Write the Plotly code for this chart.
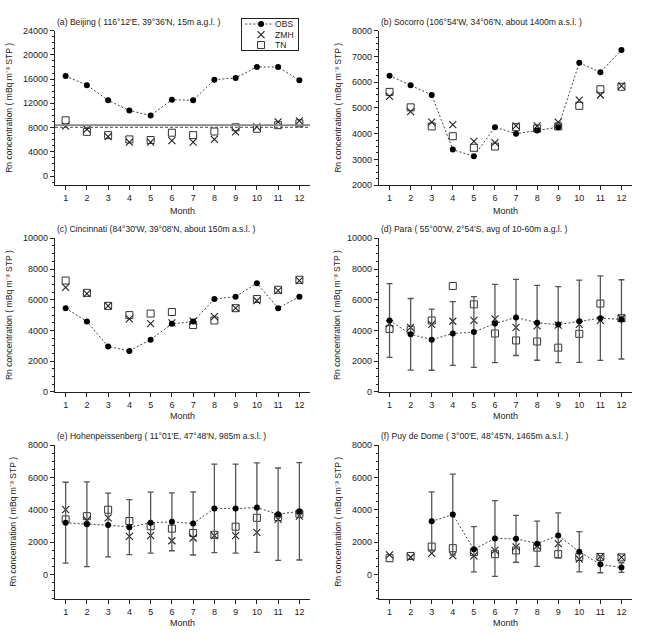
import plotly.graph_objects as go

months = list(range(1, 13))

# ---------------- data ----------------
beijing_obs = [16500, 15000, 12500, 10800, 10000, 12600, 12500, 15900, 16200, 18000, 18000, 15800]
beijing_zmh = [8250, 7700, 6500, 5600, 5600, 5850, 5600, 6050, 7300, 8100, 8950, 9100]
beijing_tn = [9200, 7300, 6750, 6050, 5950, 7150, 6750, 7350, 8050, 7800, 8400, 8700]
beijing_ref_solid = 8400
beijing_ref_dash = 8050

socorro_obs = [6250, 5880, 5500, 3380, 3120, 4250, 4000, 4120, 4250, 6750, 6380, 7250]
socorro_zmh = [5450, 4850, 4450, 4350, 3700, 3650, 4300, 4300, 4450, 5300, 5500, 5850]
socorro_tn = [5620, 5020, 4280, 3900, 3450, 3500, 4250, 4200, 4280, 5080, 5720, 5820]

cinc_obs = [5450, 4580, 2960, 2670, 3400, 4430, 4580, 6050, 6200, 7080, 5450, 6200]
cinc_zmh = [6800, 6400, 5600, 4750, 4450, 4500, 4600, 4900, 5450, 5950, 6600, 7250]
cinc_tn = [7250, 6450, 5600, 5000, 5100, 5200, 4350, 4650, 5450, 6050, 6650, 7300]

para_obs = [4650, 3750, 3400, 3800, 3900, 4450, 4850, 4500, 4380, 4600, 4800, 4720]
para_std = [2400, 2330, 1990, 2080, 2300, 2550, 2480, 2440, 2470, 2680, 2750, 2580]
para_zmh = [4450, 4200, 4400, 4600, 4650, 4750, 4200, 4300, 4350, 4400, 4650, 4800]
para_tn = [4100, 4050, 4650, 6900, 5700, 3800, 3350, 3280, 2880, 3780, 5750, 4800]

hohen_obs = [3200, 3100, 3050, 2920, 3200, 3250, 3150, 4080, 4070, 4130, 3720, 3900]
hohen_std = [2500, 2620, 1970, 1700, 1890, 1790, 1950, 2740, 2750, 2770, 2860, 3010]
hohen_zmh = [4000, 3350, 3500, 2350, 2400, 2080, 2250, 2400, 2400, 2600, 3400, 3600]
hohen_tn = [3400, 3600, 4000, 3300, 2980, 2830, 2560, 2450, 2950, 3500, 3550, 3750]

puy_obs = [None, None, 3280, 3700, 1550, 2220, 2200, 1900, 2400, 1400, 620, 420]
puy_std = [None, None, 1820, 2500, 1400, 2340, 1450, 1400, 1400, 1250, 520, 300]
puy_zmh = [1200, 1060, 1300, 1160, 1150, 1480, 1700, 1750, 1900, 950, 1100, 1050]
puy_tn = [1000, 1140, 1720, 1620, 1380, 1250, 1480, 1650, 1250, 1080, 1080, 1050]

titles = [
    "(a) Beijing ( 116°12'E, 39°36'N, 15m a.g.l. )",
    "(b) Socorro (106°54'W, 34°06'N, about 1400m a.s.l. )",
    "(c) Cincinnati (84°30'W, 39°08'N, about 150m a.s.l. )",
    "(d) Para ( 55°00'W, 2°54'S, avg of 10-60m a.g.l. )",
    "(e) Hohenpeissenberg ( 11°01'E, 47°48'N, 985m a.s.l. )",
    "(f) Puy de Dome ( 3°00'E, 48°45'N, 1465m a.s.l. )",
]
legend_labels = ["OBS", "ZMH", "TN"]
y_title = "Rn concentration ( mBq m\u207b\u00b3 STP )"

panels = [
    dict(obs=beijing_obs, std=None, zmh=beijing_zmh, tn=beijing_tn, yr=[-1500, 24000], dt=4000, mdt=1000),
    dict(obs=socorro_obs, std=None, zmh=socorro_zmh, tn=socorro_tn, yr=[2000, 8000], dt=1000, mdt=250),
    dict(obs=cinc_obs, std=None, zmh=cinc_zmh, tn=cinc_tn, yr=[0, 10000], dt=2000, mdt=500),
    dict(obs=para_obs, std=para_std, zmh=para_zmh, tn=para_tn, yr=[0, 10000], dt=2000, mdt=500),
    dict(obs=hohen_obs, std=hohen_std, zmh=hohen_zmh, tn=hohen_tn, yr=[-1500, 8000], dt=2000, mdt=500),
    dict(obs=puy_obs, std=puy_std, zmh=puy_zmh, tn=puy_tn, yr=[-1500, 8000], dt=2000, mdt=500),
]

# ---------------- layout geometry (pixels) ----------------
W, H = 645, 643
xdoms_px = [(55, 310), (379, 632)]
ydoms_px = [(26, 183), (237, 393), (447, 603)]
title_y_px = [17, 228, 438]
month_y_px = [209, 418, 628]
ytitle_x_px = [[9, 338], [9, 337], [13, 338]]

FONT = "Liberation Sans, Arial, Helvetica, sans-serif"
TXT = "#222222"

fig = go.Figure()
layout = dict(
    width=W, height=H, margin=dict(l=0, r=0, t=0, b=0),
    paper_bgcolor="white", plot_bgcolor="white",
    showlegend=False, font=dict(family=FONT, size=9, color=TXT),
)
annotations = []
shapes = []

for i, p in enumerate(panels):
    row, col = divmod(i, 2)
    n = i + 1
    xs = "" if n == 1 else str(n)
    xa, ya = "x" + xs, "y" + xs
    x0, x1 = xdoms_px[col]
    y0, y1 = ydoms_px[row]
    layout["xaxis" + xs] = dict(
        domain=[x0 / W, x1 / W], anchor=ya, range=[0.5, 12.5],
        tickmode="array", tickvals=months, ticktext=[str(m) for m in months],
        ticks="outside", ticklen=4, tickwidth=1, tickcolor="#222",
        showline=True, linecolor="#222", linewidth=1.2, showgrid=False, zeroline=False,
        tickfont=dict(size=9, color=TXT),
    )
    layout["yaxis" + xs] = dict(
        domain=[1 - y1 / H, 1 - y0 / H], anchor=xa, range=p["yr"],
        tick0=0, dtick=p["dt"], tickformat="d", ticks="outside", ticklen=4, tickwidth=1, tickcolor="#222",
        minor=dict(ticks="outside", ticklen=2, tick0=0, dtick=p["mdt"], tickcolor="#222", tickwidth=1),
        showline=True, linecolor="#222", linewidth=1.2, showgrid=False, zeroline=False,
        tickfont=dict(size=9, color=TXT),
    )
    # TN squares
    fig.add_trace(go.Scatter(
        x=months, y=p["tn"], mode="markers", xaxis=xa, yaxis=ya, name="TN",
        marker=dict(symbol="square-open", size=7, color="#333", line=dict(width=1, color="#333")),
    ))
    # ZMH crosses
    fig.add_trace(go.Scatter(
        x=months, y=p["zmh"], mode="markers", xaxis=xa, yaxis=ya, name="ZMH",
        marker=dict(symbol="x-thin", size=7, color="#222", line=dict(width=1.1, color="#222")),
    ))
    # OBS
    err = None
    if p["std"] is not None:
        err = dict(type="data", array=p["std"], color="#555", thickness=1.3, width=3, visible=True)
    fig.add_trace(go.Scatter(
        x=months, y=p["obs"], mode="lines+markers", xaxis=xa, yaxis=ya, name="OBS",
        line=dict(color="#444", width=1, dash="2px,2px"),
        marker=dict(symbol="circle", size=6, color="black"),
        error_y=err, connectgaps=False,
    ))
    # panel title
    annotations.append(dict(
        text=titles[i], xref="paper", yref="paper", x=x0 / W, y=1 - title_y_px[row] / H,
        xanchor="left", yanchor="middle", showarrow=False, font=dict(size=8.6, color=TXT),
    ))
    # x title
    annotations.append(dict(
        text="Month", xref="paper", yref="paper", x=(x0 + x1) / 2 / W, y=1 - month_y_px[row] / H,
        xanchor="center", yanchor="middle", showarrow=False, font=dict(size=9, color=TXT),
    ))
    # y title
    annotations.append(dict(
        text=y_title, xref="paper", yref="paper",
        x=ytitle_x_px[row][col] / W, y=1 - (y0 + y1) / 2 / H, textangle=-90,
        xanchor="center", yanchor="middle", showarrow=False, font=dict(size=8.6, color=TXT),
    ))

# Beijing reference lines
shapes.append(dict(type="line", xref="x domain", yref="y", x0=0, x1=1,
                   y0=beijing_ref_solid, y1=beijing_ref_solid, line=dict(color="#888", width=1.6)))
shapes.append(dict(type="line", xref="x domain", yref="y", x0=0, x1=1,
                   y0=beijing_ref_dash, y1=beijing_ref_dash, line=dict(color="#444", width=1, dash="3px,2px")))

# ---------------- custom legend box (panel a) ----------------
lx0, lx1, ly0, ly1 = 242, 298, 14, 46
layout["xaxis7"] = dict(domain=[lx0 / W, lx1 / W], anchor="y7", range=[0, 1], showticklabels=False,
                        tickmode="array", tickvals=[], ticks="", showgrid=False, zeroline=False,
                        showline=True, mirror=True, linecolor="#222", linewidth=1, fixedrange=True)
layout["yaxis7"] = dict(domain=[1 - ly1 / H, 1 - ly0 / H], anchor="x7", range=[0, 3], showticklabels=False,
                        tickmode="array", tickvals=[], ticks="", showgrid=False, zeroline=False,
                        showline=True, mirror=True, linecolor="#222", linewidth=1, fixedrange=True)
rows_y = [2.5 - k for k in range(len(legend_labels))]
fig.add_trace(go.Scatter(x=[0.06, 0.34, 0.54], y=[rows_y[0]] * 3, mode="lines", xaxis="x7", yaxis="y7",
                         line=dict(color="#444", width=1, dash="2px,2px"), hoverinfo="skip"))
fig.add_trace(go.Scatter(x=[0.34], y=[rows_y[0]], mode="markers", xaxis="x7", yaxis="y7",
                         marker=dict(symbol="circle", size=6, color="black"), hoverinfo="skip"))
fig.add_trace(go.Scatter(x=[0.34], y=[rows_y[1]], mode="markers", xaxis="x7", yaxis="y7",
                         marker=dict(symbol="x-thin", size=7, color="#222", line=dict(width=1.1, color="#222")),
                         hoverinfo="skip"))
fig.add_trace(go.Scatter(x=[0.34], y=[rows_y[2]], mode="markers", xaxis="x7", yaxis="y7",
                         marker=dict(symbol="square-open", size=7, color="#333", line=dict(width=1, color="#333")),
                         hoverinfo="skip"))
for lab, yy in zip(legend_labels, rows_y):
    annotations.append(dict(text=lab, xref="x7", yref="y7", x=0.55, y=yy, xanchor="left", yanchor="middle",
                            showarrow=False, font=dict(size=8.6, color=TXT)))

layout["annotations"] = annotations
layout["shapes"] = shapes
fig.update_layout(**layout)
fig.write_html("out.html")
